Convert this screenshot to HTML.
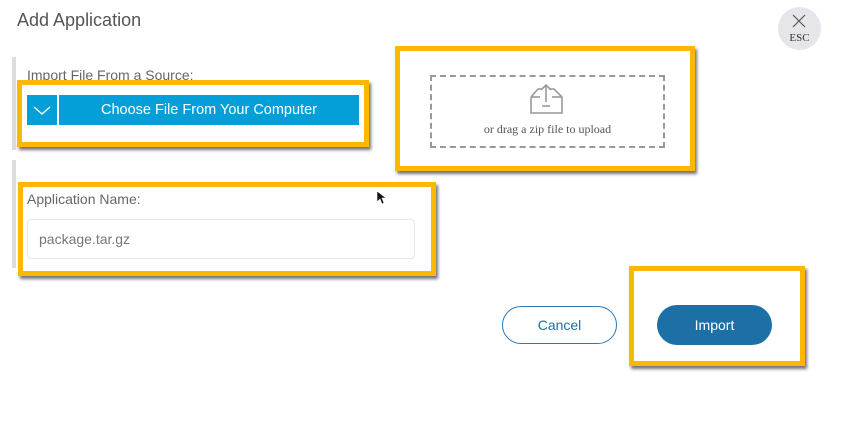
<!DOCTYPE html>
<html><head><style>
body{margin:0;width:843px;height:423px;background:#fff;position:relative;overflow:hidden;font-family:"Liberation Sans",Arial,sans-serif}
.a{position:absolute;box-sizing:border-box}
.y{border:5px solid #fbb800;box-shadow:2px 3px 3px rgba(0,0,0,.55)}
</style></head><body>
<div class="a" style="left:17px;top:10px;font-size:18px;color:#555">Add Application</div>
<div class="a" style="left:12px;top:57px;width:4px;height:93px;background:#ddd"></div>
<div class="a" style="left:12px;top:160px;width:4px;height:108px;background:#ddd"></div>
<div class="a" style="left:27px;top:67px;font-size:14px;color:#666">Import File From a Source:</div>
<div class="a y" style="left:17px;top:80px;width:352px;height:67px"></div>
<div class="a" style="left:27px;top:95px;width:30px;height:30px;background:#049fd9"><svg width="30" height="30"><polyline points="7,12 15,19 23,12" fill="none" stroke="#fff" stroke-width="1.3"/></svg></div>
<div class="a" style="left:59px;top:95px;width:300px;height:30px;background:#049fd9;color:#fff;font-size:14.5px;text-align:center;line-height:30px">Choose File From Your Computer</div>
<div class="a y" style="left:395px;top:46px;width:300px;height:125px"></div>
<div class="a" style="left:430px;top:75px;width:235px;height:73px;border:2px dashed #999"></div>
<svg class="a" style="left:528px;top:82px" width="38" height="34"><polyline points="3,15 10,7 14,7" fill="none" stroke="#999" stroke-width="1.6"/><polyline points="22,7 26,7 34,15 34,31 3,31 3,15" fill="none" stroke="#999" stroke-width="1.6"/><line x1="18" y1="3" x2="18" y2="20" stroke="#999" stroke-width="1.6"/><polyline points="13,8 18,3 23,8" fill="none" stroke="#999" stroke-width="1.6"/><line x1="3" y1="15" x2="12" y2="15" stroke="#999" stroke-width="1.6"/><line x1="24" y1="15" x2="34" y2="15" stroke="#999" stroke-width="1.6"/><line x1="14" y1="24" x2="22" y2="24" stroke="#999" stroke-width="1.6"/></svg>
<div class="a" style="left:430px;top:122px;width:235px;text-align:center;font-family:'Liberation Serif',serif;font-size:12px;color:#555">or drag a zip file to upload</div>
<div class="a" style="left:778px;top:7px;width:43px;height:43px;border-radius:50%;background:#e6e6ea"></div>
<svg class="a" style="left:791px;top:13px" width="16" height="16"><path d="M2 2L14 14M14 2L2 14" stroke="#555" stroke-width="1.2"/></svg>
<div class="a" style="left:778px;top:32px;width:43px;text-align:center;font-family:'Liberation Serif',serif;font-size:11px;color:#333">ESC</div>
<div class="a y" style="left:18px;top:182px;width:418px;height:94px"></div>
<div class="a" style="left:27px;top:191px;font-size:14px;color:#666">Application Name:</div>
<div class="a" style="left:27px;top:219px;width:388px;height:40px;border:1px solid #e6e6e6;border-radius:4px;font-size:14px;color:#777;padding:11px 0 0 11px">package.tar.gz</div>
<svg class="a" style="left:376px;top:190px" width="12" height="16"><path d="M1 1L1 12L4 9L6 14L8 13L6 8L10 8Z" fill="#111" stroke="#fff" stroke-width=".6"/></svg>
<div class="a" style="left:502px;top:306px;width:115px;height:38px;border:1px solid #2a7ab8;border-radius:19px;text-align:center;line-height:36px;font-size:14px;color:#1d6fa6">Cancel</div>
<div class="a y" style="left:629px;top:266px;width:176px;height:100px"></div>
<div class="a" style="left:657px;top:305px;width:115px;height:40px;background:#1d70a6;border-radius:20px;text-align:center;line-height:40px;font-size:14px;color:#fff">Import</div>
</body></html>
